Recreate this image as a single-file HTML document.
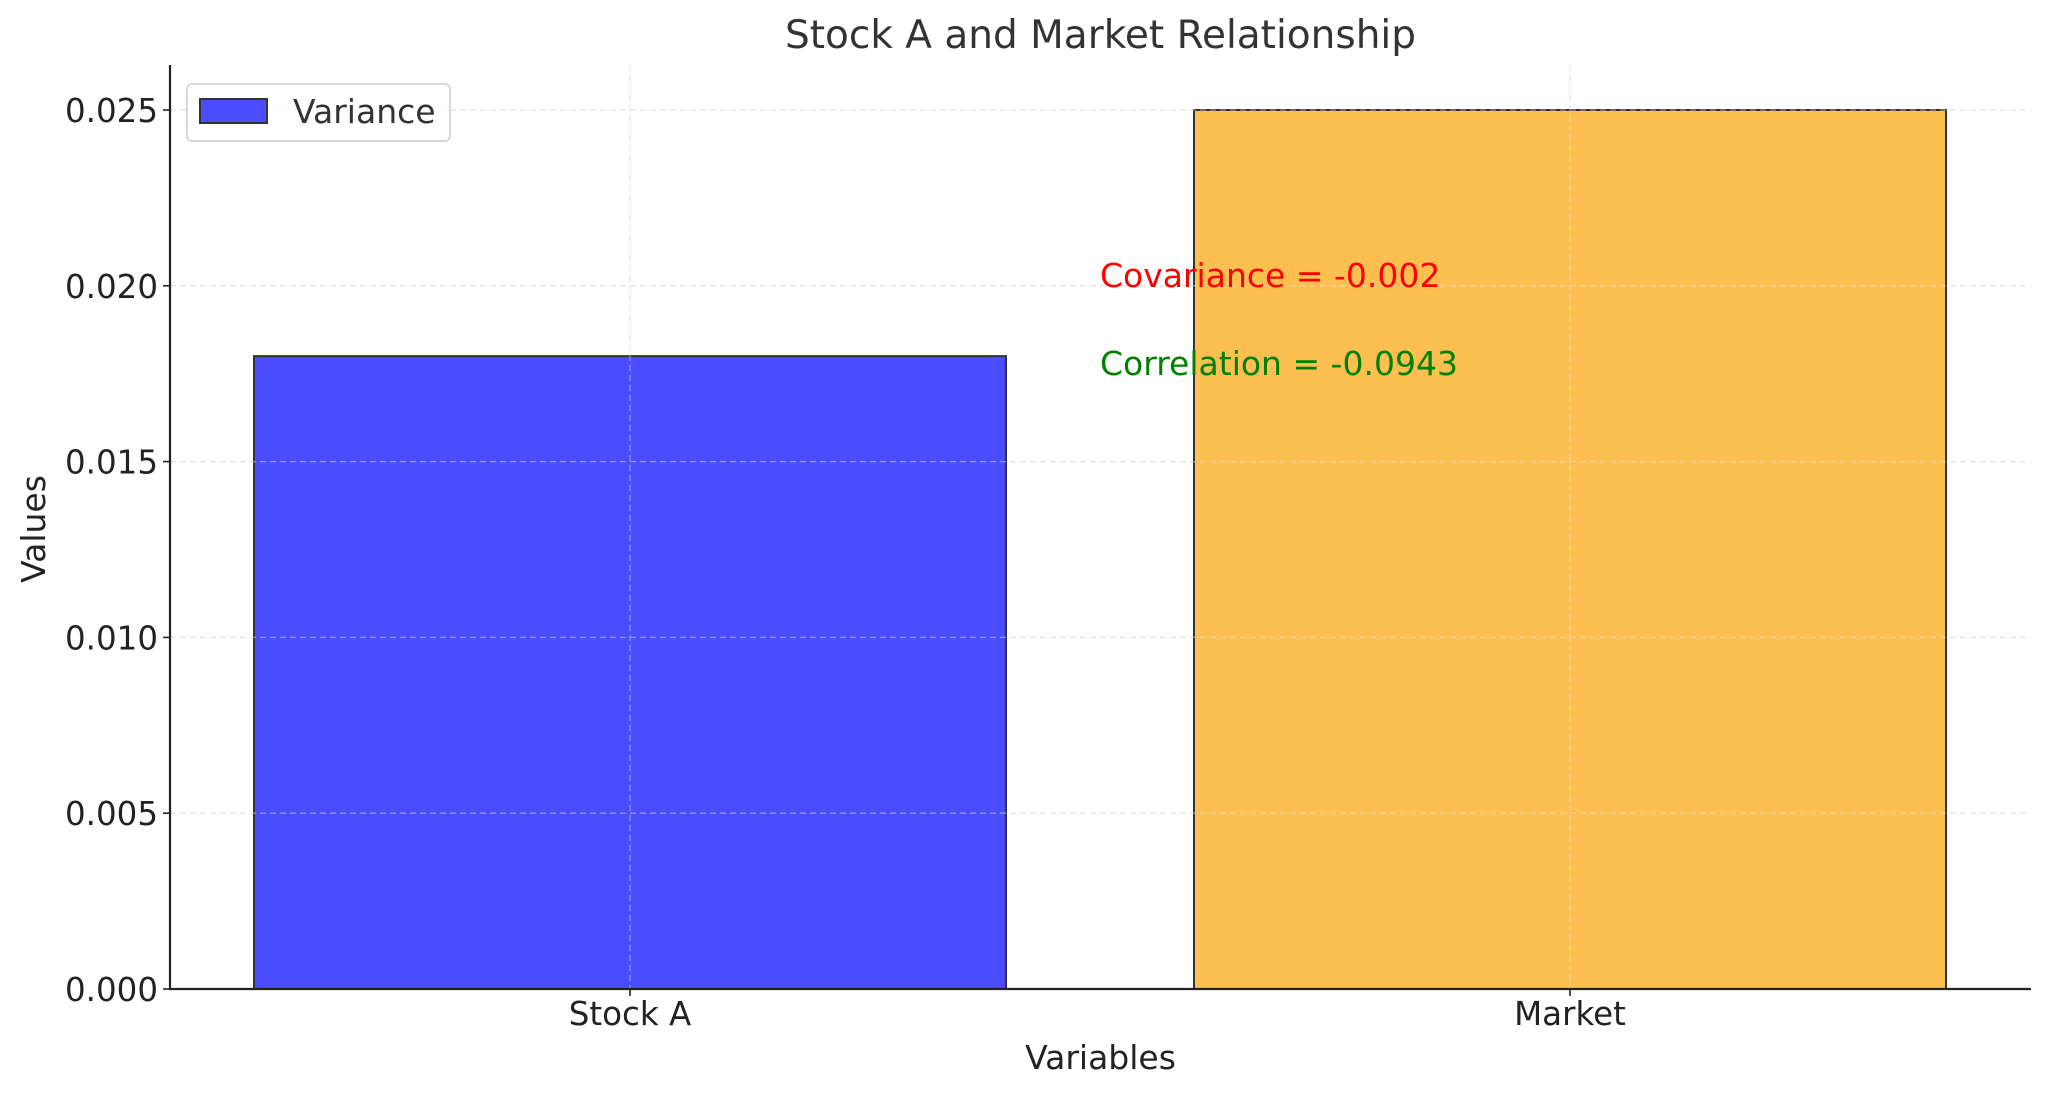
<!DOCTYPE html>
<html><head><meta charset="utf-8"><style>
body{margin:0;background:#fff}
svg{display:block;font-family:"DejaVu Sans","Liberation Sans",sans-serif}
</style></head><body>
<svg id="chart" width="2049" height="1097" viewBox="0 0 2049 1097">
<g id="grid"></g><g id="bars"></g><g id="axes"></g>
</svg>
<script>
const categories=["Stock A","Market"];
const variances=[0.018,0.025];
const colors=["#4b4bff","#fdbf4f"];
const yTicks=[0,0.005,0.010,0.015,0.020,0.025];
const yTickLabels=["0.000","0.005","0.010","0.015","0.020","0.025"];
const covarianceLabel="Covariance = -0.002";
const correlationLabel="Correlation = -0.0943";
const L=170,R=2031,T=65,B=989;
const x=i=>630+i*940;
const y=v=>B-v/0.025*(B-110);
const NS="http://www.w3.org/2000/svg";
function mk(tag,attrs,parent,text){const e=document.createElementNS(NS,tag);for(const k in attrs)e.setAttribute(k,attrs[k]);if(text!==undefined)e.textContent=text;parent.appendChild(e);return e;}
const svg=document.getElementById('chart');
const grid=document.getElementById('grid'),bars=document.getElementById('bars'),axes=document.getElementById('axes');
yTicks.forEach((t,i)=>{
 const g=mk('line',{x1:L,x2:R,y1:y(t),y2:y(t),stroke:'#e3e3e3','stroke-width':1.3,'stroke-dasharray':'6,4'},grid);
 
 
 const tk=mk('line',{x1:L-7,x2:L,y1:y(t),y2:y(t),stroke:'#222','stroke-width':1.6},axes);
 
 
 const lb=mk('text',{x:L-12,y:y(t)+12,'text-anchor':'end','font-size':32.5,fill:'#222'},axes,yTickLabels[i]);
 
 
});
categories.forEach((c,i)=>{
 const g=mk('line',{x1:x(i),x2:x(i),y1:T,y2:B,stroke:'#e3e3e3','stroke-width':1.3,'stroke-dasharray':'6,4'},grid);
 
 
 const w=0.8*940;
 const b=mk('rect',{x:x(i)-w/2,y:y(variances[i]),width:w,height:B-y(variances[i]),fill:colors[i],stroke:'#333','stroke-width':2},bars);
 
 
 const tk=mk('line',{x1:x(i),x2:x(i),y1:B,y2:B+7,stroke:'#222','stroke-width':1.6},axes);
 
 
 const lb=mk('text',{x:x(i),y:B+36,'text-anchor':'middle','font-size':32.5,fill:'#222'},axes,c);
 
 
});
const overlay=grid.cloneNode(true);overlay.setAttribute('opacity','0.5');svg.insertBefore(overlay,axes);
const ax=mk('path',{d:`M${L},${T} V${B} H${R}`,fill:'none',stroke:'#222','stroke-width':2.2},axes);


const t1=mk('text',{x:1100,y:287,'font-size':33,fill:'#ff0000'},axes,covarianceLabel);


const t2=mk('text',{x:1100,y:375,'font-size':33,fill:'#008000'},axes,correlationLabel);


const title=mk('text',{x:(L+R)/2,y:48,'text-anchor':'middle','font-size':39,fill:'#333'},axes,'Stock A and Market Relationship');


const xl=mk('text',{x:(L+R)/2,y:1069,'text-anchor':'middle','font-size':33,fill:'#222'},axes,'Variables');


const yl=mk('text',{x:0,y:0,'text-anchor':'middle','font-size':33,fill:'#222',transform:'translate(45,529) rotate(-90)'},axes,'Values');


const lg=mk('g',{},axes);


mk('rect',{x:187,y:84,width:263,height:57,rx:5,fill:'#fff','fill-opacity':0.85,stroke:'#d8d8d8','stroke-width':2},lg);
const lp=mk('rect',{x:200,y:99,width:67,height:24,fill:colors[0],stroke:'#333','stroke-width':2},lg);


const lt=mk('text',{x:293,y:123,'font-size':33,fill:'#333'},lg,'Variance');


</script>
</body></html>
